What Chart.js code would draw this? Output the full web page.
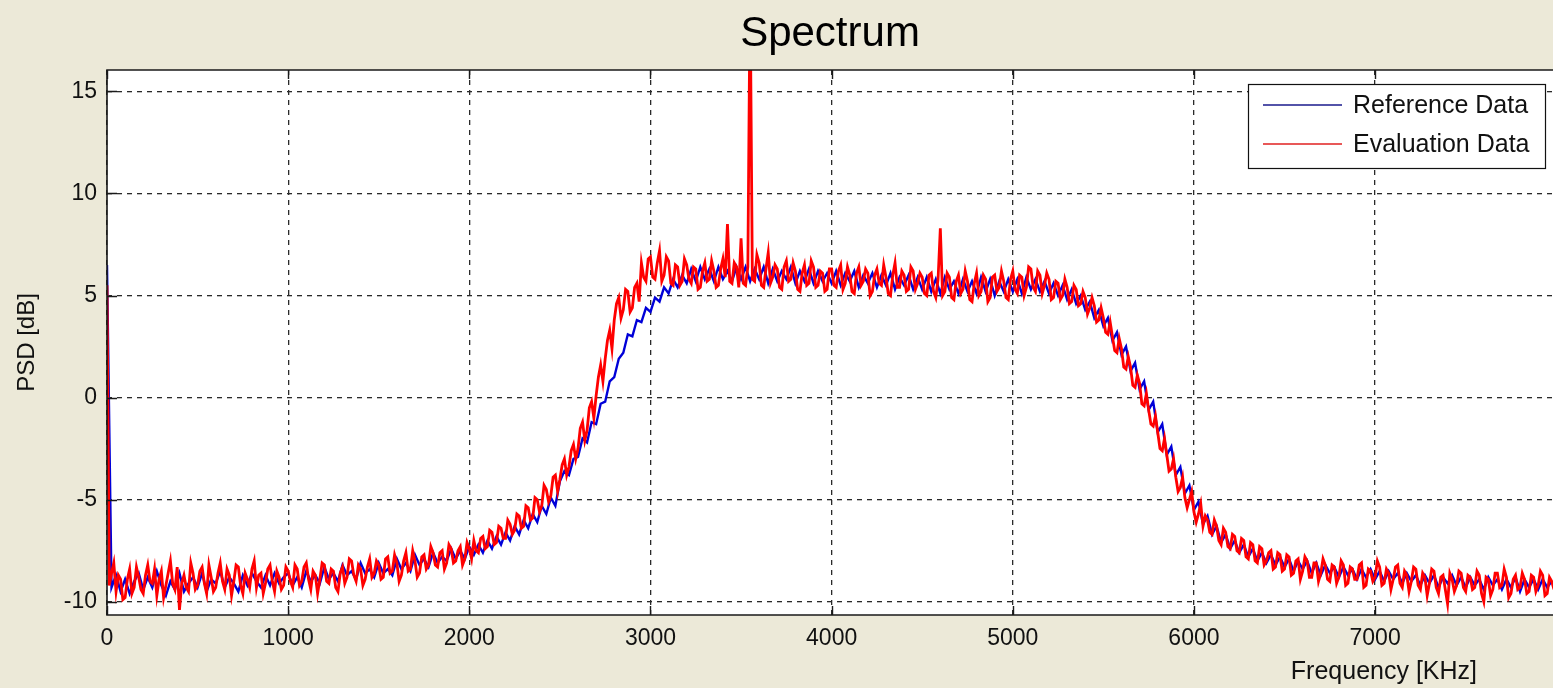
<!DOCTYPE html>
<html><head><meta charset="utf-8">
<script src="https://cdn.jsdelivr.net/npm/chart.js@4/dist/chart.umd.min.js"></script>
<style>html,body{margin:0;padding:0;background:#ECE9D8;overflow:hidden}canvas{display:block}</style>
</head><body>
<canvas id="c" width="1553" height="688"></canvas>
<script>
const chartTitle = 'Spectrum';
const xAxisTitle = 'Frequency [KHz]';
const yAxisTitle = 'PSD [dB]';
const seriesNames = ['Reference Data', 'Evaluation Data'];
const seriesColors = ['#0000d8', '#ff0000'];
const xTickValues = [0, 1000, 2000, 3000, 4000, 5000, 6000, 7000];
const yTickValues = [-10, -5, 0, 5, 10, 15];
const xRange = [0, 7982];
const yRange = [-10.65, 16.05];

// Reference Data, sampled every 25 kHz starting at 0 kHz (one row = 500 kHz)
const referenceStepKHz = 25;
const referencePSD = [
  6.5, -9.3, -8.7, -9.5, -8.9, -9.6, -9.0, -8.6, -9.4, -8.8, -9.3, -8.5, -9.2, -9.7, -9.0, -9.4, -8.6, -9.5, -9.1, -8.8,
  -9.3, -8.6, -9.5, -8.9, -9.1, -8.5, -9.3, -8.8, -9.1, -9.5, -8.7, -9.2, -8.6, -9.0, -9.3, -8.7, -9.2, -8.6, -9.1, -8.8,
  -8.6, -9.2, -8.8, -9.3, -8.5, -9.0, -8.7, -9.1, -8.3, -8.9, -8.6, -9.0, -8.2, -8.7, -8.5, -8.9, -8.1, -8.6, -8.4, -8.8,
  -8.1, -8.6, -8.4, -8.7, -7.9, -8.4, -8.1, -8.5, -7.7, -8.2, -7.9, -8.3, -7.6, -8.1, -7.8, -8.0, -7.4, -7.9, -7.5, -7.9,
  -7.3, -7.7, -7.2, -7.6, -7.0, -7.4, -6.8, -7.2, -6.6, -7.0, -6.3, -6.7, -6.0, -6.4, -5.7, -6.1, -5.3, -5.7, -4.9, -5.3,
  -4.1, -3.6, -3.8, -3.0, -2.9, -2.0, -2.2, -1.2, -1.3, -0.3, -0.2, 0.8, 1.0, 1.9, 2.2, 3.1, 3.0, 3.8, 3.7, 4.4,
  4.2, 4.9, 4.7, 5.4, 5.1, 5.8, 5.4, 6.0, 5.6, 6.3, 5.7, 6.4, 5.8, 6.3, 5.7, 6.4, 5.8, 6.2, 5.7, 6.4,
  5.8, 6.4, 5.7, 6.3, 5.8, 6.4, 5.6, 6.3, 5.7, 6.2, 5.8, 6.4, 5.6, 6.2, 5.7, 6.3, 5.6, 6.2, 5.7, 6.1,
  5.6, 6.2, 5.5, 6.1, 5.7, 6.2, 5.4, 6.0, 5.6, 6.1, 5.4, 6.0, 5.5, 6.1, 5.3, 5.9, 5.5, 6.0, 5.3, 5.9,
  5.3, 5.9, 5.2, 5.8, 5.1, 5.9, 5.3, 5.7, 5.1, 5.8, 5.2, 5.7, 5.1, 5.9, 5.2, 5.8, 5.0, 5.7, 5.2, 5.8,
  5.2, 5.8, 5.1, 5.9, 5.3, 5.8, 5.2, 5.7, 5.1, 5.6, 5.0, 5.5, 4.8, 5.3, 4.6, 5.0, 4.3, 4.7, 3.9, 4.3,
  3.5, 3.9, 2.8, 3.2, 2.1, 2.5, 1.3, 1.7, 0.4, 0.8, -0.6, -0.2, -1.7, -1.3, -2.8, -2.4, -3.8, -3.4, -4.7, -4.3,
  -5.5, -5.1, -6.2, -5.8, -6.7, -6.3, -7.1, -6.7, -7.4, -7.0, -7.6, -7.2, -7.8, -7.4, -8.0, -7.6, -8.1, -7.7, -8.2, -7.8,
  -8.3, -7.9, -8.5, -8.0, -8.4, -8.0, -8.6, -8.1, -8.7, -8.2, -8.6, -8.3, -8.8, -8.3, -8.7, -8.4, -8.9, -8.4, -8.8, -8.4,
  -8.9, -8.5, -9.0, -8.5, -8.9, -8.6, -9.1, -8.6, -9.0, -8.7, -9.2, -8.7, -9.1, -8.7, -9.3, -8.8, -9.1, -8.7, -9.2, -8.8,
  -9.3, -8.8, -9.2, -8.9, -9.4, -8.8, -9.2, -8.9, -9.4, -8.9, -9.3, -8.8, -9.5, -8.9, -9.3, -8.9, -9.4, -8.9, -9.3, -9.0
];

// Evaluation Data, sampled every 12.5 kHz starting at 0 kHz (one row = 500 kHz)
const evaluationStepKHz = 12.5;
const evaluationPSD = [
  5.5, -9.2, -8.6, -8.1, -9.5, -8.7, -8.9, -9.9, -9.8, -8.9, -8.4, -9.6, -9.3, -8.3, -8.8, -9.4, -9.6, -8.7, -8.2, -9.0,
  -9.1, -8.4, -9.7, -8.9, -8.5, -9.8, -9.2, -8.6, -8.0, -9.1, -9.4, -8.3, -10.4, -9.1, -8.7, -9.3, -9.5, -8.1, -8.6, -9.4,
  -9.2, -8.5, -8.3, -9.1, -9.6, -8.2, -8.8, -9.5, -9.3, -8.6, -8.1, -9.0, -9.4, -8.4, -8.7, -9.7, -9.0, -8.2, -8.3, -9.2,
  -9.6, -8.6, -8.9, -9.3, -8.4, -8.0, -9.3, -8.7, -8.6, -9.6, -9.1, -8.4, -8.2, -9.0, -9.5, -8.5, -8.8, -9.4, -9.2, -8.3,
  -8.5, -9.0, -9.3, -8.2, -8.4, -9.2, -9.0, -8.3, -8.1, -8.9, -9.4, -8.5, -8.7, -9.6, -8.9, -8.1, -8.2, -9.0, -9.1, -8.4,
  -8.5, -9.3, -9.5, -8.6, -8.3, -9.1, -8.8, -7.9, -8.0, -8.7, -9.0, -8.2, -8.4, -9.2, -8.9, -8.3, -7.9, -8.8, -8.6, -8.0,
  -8.2, -8.9, -8.8, -7.9, -7.8, -8.6, -8.5, -7.7, -8.1, -9.0, -8.7, -8.0, -7.6, -8.5, -8.4, -7.5, -8.0, -8.8, -8.6, -7.8,
  -7.7, -8.4, -8.2, -7.3, -7.6, -8.2, -8.3, -7.6, -7.5, -8.4, -8.1, -7.2, -7.4, -8.1, -8.0, -7.5, -7.3, -8.2, -7.9, -7.1,
  -7.4, -7.9, -7.0, -7.5, -7.6, -6.9, -6.8, -7.4, -7.3, -6.5, -6.6, -7.2, -7.1, -6.3, -6.4, -6.9, -6.9, -6.0, -6.2, -6.7,
  -6.5, -5.7, -5.8, -6.4, -6.3, -5.3, -5.4, -6.0, -5.9, -4.9, -5.0, -5.6, -5.3, -4.3, -4.5, -5.1, -4.8, -3.9, -3.8, -4.6,
  -4.0, -3.3, -3.0, -3.8, -3.4, -2.6, -2.3, -3.0, -2.5, -1.5, -1.2, -2.1, -1.6, -0.5, -0.2, -1.0, 0.1, 1.0, 1.6, 0.8,
  1.9, 2.8, 3.3, 2.4, 3.8, 4.6, 4.9, 3.9, 4.3, 5.3, 5.2, 4.2, 4.4, 5.4, 5.6, 4.7, 6.6, 5.9, 5.7, 6.8,
  6.9, 5.9, 5.8, 6.6, 7.2, 5.7, 6.0, 6.9, 6.7, 5.6, 5.5, 6.5, 6.4, 5.5, 5.7, 6.8, 6.5, 5.8, 5.6, 6.4,
  6.3, 5.3, 5.4, 6.2, 6.6, 5.7, 5.8, 6.7, 6.2, 5.4, 5.5, 6.3, 6.8, 5.9, 8.5, 5.7, 5.6, 6.6, 6.4, 5.4,
  7.8, 5.6, 5.5, 6.4, 20.0, 5.8, 5.7, 7.0, 6.6, 5.5, 5.4, 6.3, 7.1, 5.6, 5.9, 6.5, 6.3, 5.4, 5.3, 6.4,
  6.7, 5.7, 5.8, 6.6, 6.2, 5.3, 5.2, 6.1, 6.5, 5.5, 5.6, 6.7, 6.4, 5.4, 5.5, 6.2, 6.1, 5.2, 5.3, 6.3,
  6.3, 5.5, 5.4, 6.2, 6.5, 5.3, 5.6, 6.4, 6.0, 5.2, 5.1, 6.1, 6.4, 5.5, 5.7, 6.3, 6.1, 5.0, 5.2, 6.0,
  6.3, 5.6, 5.5, 6.5, 5.9, 5.1, 5.0, 6.0, 6.6, 5.4, 5.4, 6.2, 6.0, 5.2, 5.3, 6.4, 6.2, 5.3, 5.6, 6.1,
  5.9, 5.1, 5.0, 6.0, 6.1, 5.2, 4.9, 5.8, 8.3, 5.0, 5.2, 6.1, 5.9, 4.9, 4.8, 5.7, 6.0, 5.1, 5.3, 6.2,
  5.7, 4.8, 4.7, 5.6, 6.1, 5.0, 5.2, 6.0, 5.8, 4.7, 4.9, 5.9, 6.0, 5.2, 5.4, 6.2, 5.7, 4.9, 4.8, 5.8,
  6.2, 5.3, 5.1, 6.0, 5.9, 5.0, 5.4, 6.4, 6.3, 5.4, 5.2, 6.2, 6.0, 5.1, 5.5, 6.1, 5.8, 4.8, 4.9, 5.7,
  5.6, 4.8, 5.0, 5.8, 5.4, 4.6, 4.7, 5.5, 5.3, 4.5, 4.6, 5.2, 4.9, 4.1, 4.4, 4.9, 4.5, 3.7, 3.8, 4.4,
  3.9, 3.2, 3.1, 3.7, 3.0, 2.3, 2.2, 2.9, 2.4, 1.5, 1.4, 2.0, 1.5, 0.6, 0.5, 1.1, 0.7, -0.3, -0.4, 0.2,
  -0.6, -1.3, -1.4, -0.9, -1.7, -2.5, -2.6, -2.0, -2.8, -3.6, -3.5, -3.0, -3.9, -4.6, -4.4, -3.9, -4.9, -5.4, -5.0, -4.6,
  -5.6, -6.1, -5.7, -5.2, -6.3, -5.8, -6.0, -6.6, -6.7, -6.0, -6.3, -7.0, -7.2, -6.4, -6.6, -7.3, -7.4, -6.7, -6.8, -7.5,
  -7.6, -6.9, -7.0, -7.8, -7.9, -7.1, -7.2, -8.0, -8.1, -7.3, -7.4, -8.2, -8.0, -7.6, -7.5, -8.4, -8.3, -7.6, -7.7, -8.5,
  -8.4, -7.7, -7.8, -8.7, -8.6, -8.0, -7.9, -8.9, -8.5, -7.8, -8.0, -8.8, -8.8, -8.1, -8.1, -9.0, -8.6, -7.9, -8.2, -8.9,
  -9.0, -8.2, -8.3, -9.1, -8.8, -8.0, -8.2, -9.2, -9.1, -8.3, -8.4, -8.9, -8.9, -8.2, -8.1, -9.3, -9.2, -8.4, -8.5, -9.0,
  -8.8, -8.0, -8.3, -9.2, -9.1, -8.4, -8.6, -9.4, -8.9, -8.3, -8.2, -9.1, -9.3, -8.5, -8.7, -9.5, -9.0, -8.3, -8.4, -9.2,
  -9.4, -8.6, -8.8, -9.7, -9.1, -8.4, -8.5, -9.3, -9.6, -8.8, -8.7, -9.4, -10.1, -8.6, -8.9, -9.5, -9.2, -8.5, -8.6, -9.3,
  -9.5, -8.7, -8.8, -9.4, -9.3, -8.5, -8.7, -9.6, -10.0, -8.8, -8.9, -9.7, -9.4, -8.6, -8.6, -9.3, -9.2, -8.4, -8.8, -9.8,
  -9.6, -8.9, -8.7, -9.4, -9.3, -8.6, -8.9, -9.6, -9.5, -8.7, -8.8, -9.5, -9.2, -8.5, -8.7, -9.7, -9.6, -8.8, -9.0, -9.4
];

const FONT = "'Liberation Sans', Arial, Helvetica, sans-serif";
const toPoints = (arr, step) => arr.map((v, i) => ({ x: i * step, y: v }));

const frameAndLegend = {
  id: 'frameAndLegend',
  beforeDraw(chart) {
    const { ctx, chartArea: a } = chart;
    ctx.save();
    ctx.fillStyle = '#ECE9D8';
    ctx.fillRect(0, 0, chart.width, chart.height);
    ctx.fillStyle = '#ffffff';
    ctx.fillRect(a.left, a.top, a.right - a.left, a.bottom - a.top);
    // title centred over the plot area
    ctx.font = '42px ' + FONT;
    ctx.fillStyle = '#000';
    ctx.textAlign = 'center';
    ctx.textBaseline = 'alphabetic';
    ctx.fillText(chartTitle, (a.left + a.right) / 2, 46);
    ctx.restore();
  },
  afterDraw(chart) {
    const { ctx, chartArea: a } = chart;
    const xs = chart.scales.x, ys = chart.scales.y;
    ctx.save();
    ctx.strokeStyle = '#1a1a1a';
    ctx.lineWidth = 1.6;
    ctx.beginPath();
    ctx.moveTo(a.right + 2, a.top); ctx.lineTo(a.left, a.top);
    ctx.lineTo(a.left, a.bottom); ctx.lineTo(a.right + 2, a.bottom);
    ctx.stroke();
    // inward ticks
    ctx.lineWidth = 1.4;
    ctx.beginPath();
    xTickValues.forEach(v => {
      const px = Math.round(xs.getPixelForValue(v)) + 0.5;
      ctx.moveTo(px, a.bottom); ctx.lineTo(px, a.bottom - 9);
      ctx.moveTo(px, a.top); ctx.lineTo(px, a.top + 9);
    });
    yTickValues.forEach(v => {
      const py = Math.round(ys.getPixelForValue(v)) + 0.5;
      ctx.moveTo(a.left, py); ctx.lineTo(a.left + 10, py);
    });
    ctx.stroke();
    // legend box
    const bw = 297, bh = 84;
    const bx = a.right - 8 - bw, by = a.top + 14;
    ctx.fillStyle = '#ffffff';
    ctx.fillRect(bx, by, bw, bh);
    ctx.strokeStyle = '#111';
    ctx.lineWidth = 1.2;
    ctx.strokeRect(bx + 0.5, by + 0.5, bw, bh);
    ctx.font = '25px ' + FONT;
    ctx.textBaseline = 'middle';
    ctx.textAlign = 'left';
    seriesNames.forEach((name, i) => {
      const ry = by + 21 + i * 39;
      ctx.strokeStyle = i === 0 ? '#1a1a8c' : '#e02020';
      ctx.lineWidth = 1.6;
      ctx.beginPath();
      ctx.moveTo(bx + 15, ry); ctx.lineTo(bx + 94, ry);
      ctx.stroke();
      ctx.fillStyle = '#111';
      ctx.fillText(name, bx + 105, ry + 1);
    });
    // x-axis label
    ctx.font = '25px ' + FONT;
    ctx.textAlign = 'right';
    ctx.fillStyle = '#111';
    ctx.fillText(xAxisTitle, a.right - 76, 672);
    ctx.restore();
  }
};

new Chart(document.getElementById('c'), {
  type: 'line',
  data: {
    datasets: [
      {
        label: seriesNames[0],
        data: toPoints(referencePSD, referenceStepKHz),
        borderColor: seriesColors[0],
        borderWidth: 2.4,
        pointRadius: 0,
        tension: 0,
        order: 1
      },
      {
        label: seriesNames[1],
        data: toPoints(evaluationPSD, evaluationStepKHz),
        borderColor: seriesColors[1],
        borderWidth: 2.8,
        pointRadius: 0,
        tension: 0,
        order: 0
      }
    ]
  },
  options: {
    responsive: false,
    animation: false,
    devicePixelRatio: 1,
    layout: { padding: { top: 70, left: 0, right: 0, bottom: 0 } },
    plugins: {
      legend: { display: false },
      tooltip: { enabled: false },
      title: { display: false }
    },
    scales: {
      x: {
        type: 'linear',
        min: xRange[0],
        max: xRange[1],
        afterBuildTicks: s => { s.ticks = xTickValues.map(v => ({ value: v })); },
        afterFit: s => { s.height = 73; },
        ticks: {
          color: '#111',
          font: { family: FONT, size: 23 },
          padding: 10,
          maxRotation: 0,
          autoSkip: false,
          callback: v => String(v)
        },
        grid: { color: '#2a2a2a', lineWidth: 1.3, drawTicks: false },
        border: { display: false, dash: [5, 5] }
      },
      y: {
        type: 'linear',
        min: yRange[0],
        max: yRange[1],
        afterBuildTicks: s => { s.ticks = yTickValues.map(v => ({ value: v })); },
        afterFit: s => { s.width = 107; },
        ticks: {
          color: '#111',
          font: { family: FONT, size: 23 },
          padding: 10,
          autoSkip: false,
          callback: v => String(v)
        },
        title: {
          display: true,
          text: yAxisTitle,
          color: '#111',
          font: { family: FONT, size: 24 },
          padding: { top: 13, bottom: 0 }
        },
        grid: { color: '#2a2a2a', lineWidth: 1.3, drawTicks: false },
        border: { display: false, dash: [5, 5] }
      }
    }
  },
  plugins: [frameAndLegend]
});
</script>
</body></html>
